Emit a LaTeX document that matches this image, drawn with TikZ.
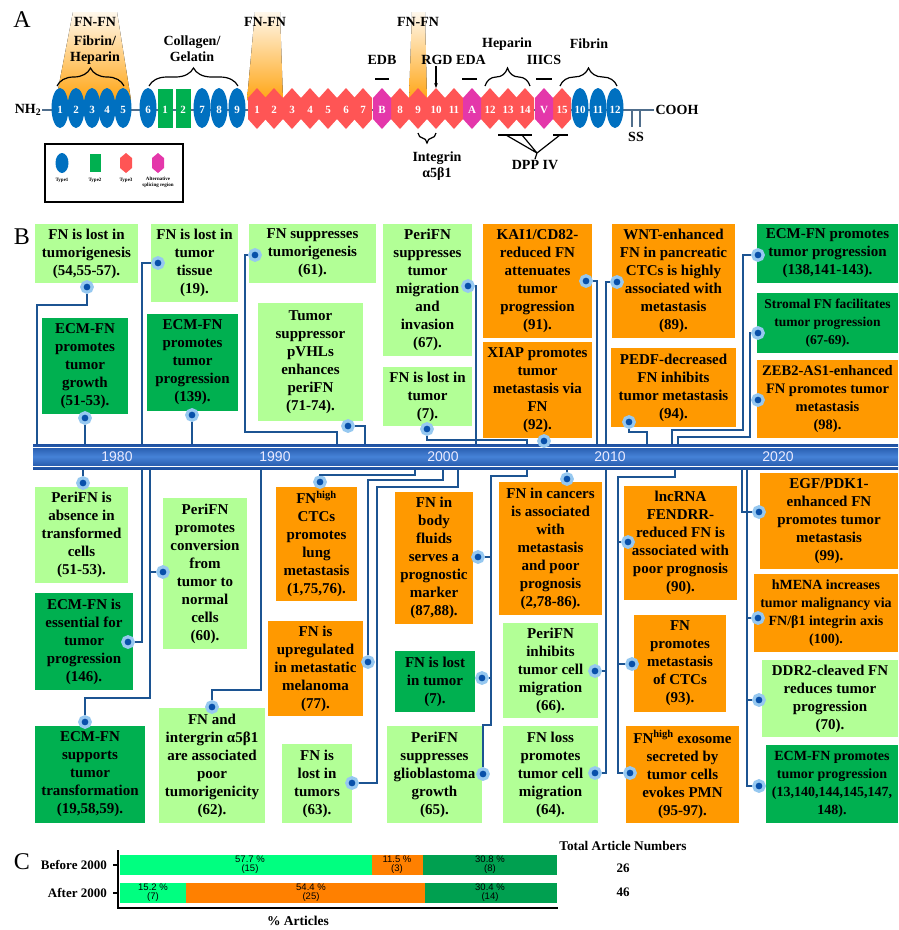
\documentclass[tikz,border=0pt]{standalone}
\usepackage{fontspec}
\setmainfont{Liberation Serif}
\newfontfamily\sansfam{Liberation Sans}
\usetikzlibrary{arrows.meta,decorations.pathreplacing}

\definecolor{lgreen}{RGB}{178,255,150}
\definecolor{dgreen}{RGB}{0,176,80}
\definecolor{orangeb}{RGB}{255,153,0}
\definecolor{lineblue}{RGB}{28,84,146}
\definecolor{dotblue}{RGB}{8,80,170}
\definecolor{glowblue}{RGB}{150,200,240}
\definecolor{tone}{RGB}{0,112,192}
\definecolor{ttwo}{RGB}{0,176,80}
\definecolor{tthree}{RGB}{255,85,85}
\definecolor{talt}{RGB}{228,55,170}
\definecolor{cgreen}{RGB}{0,255,128}
\definecolor{corange}{RGB}{255,128,0}
\definecolor{cdgreen}{RGB}{0,160,80}
\definecolor{fnorange}{RGB}{255,165,20}
\definecolor{barblue}{RGB}{30,80,160}
\definecolor{barlight}{RGB}{70,130,215}
\definecolor{stemgray}{RGB}{80,110,140}

\tikzset{
  box/.style={align=center, inner sep=1pt, font=\fontsize{15}{18}\selectfont\bfseries},
  lgbox/.style={box, fill=lgreen},
  dgbox/.style={box, fill=dgreen},
  orbox/.style={box, fill=orangeb},
  tight/.style={font=\fontsize{#1}{18}\selectfont\bfseries},
  dot/.style={circle, fill=dotblue, draw=glowblue, line width=3.2pt, minimum size=10.5pt, inner sep=0pt},
  conn/.style={draw=lineblue, line width=1.8pt},
  lab/.style={align=center, inner sep=1pt, font=\fontsize{14}{16}\selectfont\bfseries},
  num/.style={text=white, inner sep=0pt, font=\fontsize{11}{12}\selectfont\bfseries},
  panel/.style={inner sep=0pt, font=\fontsize{24}{26}\selectfont},
  year/.style={text=white!92!blue, inner sep=0pt, font=\sansfam\fontsize{14}{16}\selectfont},
  pct/.style={align=center, inner sep=0pt, font=\sansfam\fontsize{9.5}{9}\selectfont},
  leg/.style={align=center, inner sep=0pt, font=\fontsize{5}{6}\selectfont\bfseries},
  fnfan/.style={top color=fnorange!8, bottom color=fnorange},
  bracetop/.style={decorate, decoration={brace, amplitude=18pt}, line width=1.2pt},
}

\begin{document}
\begin{tikzpicture}[x=1pt,y=-1pt]
\useasboundingbox (0,0) rectangle (898,930);
\clip (0,0) rectangle (898,930);

% ---------- A: domain structure ----------
\node[panel] (pA) at (22,20) {A};
\fill[fnfan] (73,12) -- (117,12) -- (131,100) -- (56,100) -- cycle;
\fill[fnfan] (255,12) -- (280,12) -- (283,100) -- (247,100) -- cycle;
\fill[fnfan] (412,12) -- (425,12) -- (427,100) -- (409,100) -- cycle;

\node[lab] (nh2) at (28,110) {NH\textsubscript{2}};
\node[lab] (cooh) at (677,110) {COOH};
\draw[stemgray, line width=1.5pt] (nh2) -- (cooh);
\draw[stemgray, line width=1.5pt] (632,110) -- (632,127) (640,110) -- (640,127);
\node[lab] (ss) at (636,137) {SS};

\foreach \x/\t in {60/1,76/2,92/3,107/4,123/5,148/6,202/7,219/8,237/9,580/10,598/11,615/12}{
  \fill[tone] (\x,108) ellipse [x radius=8.5, y radius=20];
  \node[num] (one\x) at (\x,110) {\t};
}
\foreach \x/\t in {165/1,183/2}{
  \fill[ttwo] (\x-7.5,89) rectangle (\x+7.5,128);
  \node[num] (two\x) at (\x,110) {\t};
}
\foreach \x/\t in {257/1,274/2,292/3,310/4,328/5,346/6,363/7,400/8,418/9,436/10,454/11,490/12,508/13,525/14,562/15}{
  \fill[tthree] (\x,88) -- (\x+9,98) -- (\x+9,119) -- (\x,129) -- (\x-9,119) -- (\x-9,98) -- cycle;
  \node[num] (three\x) at (\x,110) {\t};
}
\foreach \x/\t in {382/B,472/A,544/V}{
  \fill[talt] (\x,88) -- (\x+9,98) -- (\x+9,119) -- (\x,129) -- (\x-9,119) -- (\x-9,98) -- cycle;
  \node[num] (alt\x) at (\x,110) {\t};
}

\node[lab] (fnfn1) at (95,22) {FN-FN};
\node[lab] (fibhep) at (95,50) {Fibrin/\\Heparin};
\node[lab] (colgel) at (192,49) {Collagen/\\Gelatin};
\node[lab] (fnfn2) at (265,22) {FN-FN};
\node[lab] (fnfn3) at (418,22) {FN-FN};
\node[lab] (edb) at (382,60) {EDB};
\node[lab] (rgd) at (437,60) {RGD};
\node[lab] (eda) at (471,60) {EDA};
\node[lab] (hep) at (507,44) {Heparin};
\node[lab] (iiics) at (544,60) {IIICS};
\node[lab] (fib) at (589,44) {Fibrin};
\node[lab] (integ) at (437,166) {Integrin\\α5β1};
\node[lab] (dpp) at (535,165) {DPP IV};

\draw[bracetop] (57,86) -- (124,86);
\draw[bracetop] (149,86) -- (238,86);
\draw[bracetop] (485,86) -- (530,86);
\draw[bracetop] (560,86) -- (617,86);
\draw[decorate, decoration={brace, amplitude=10pt}, line width=1.2pt] (436,133) -- (418,133);
\draw[line width=1.2pt] (375,79) -- (389,79) (462,79) -- (477,79) (536,79) -- (552,79);
\draw[line width=1.2pt, -{Stealth[length=5pt]}] (rgd.south -| 436,0) -- (436,88);
\coordinate (dppjoin) at (537,153);
\draw[line width=1.2pt] (498,135) -- (532,135) (553,135) -- (568,135);
\draw[line width=1.2pt] (506,135) -- (dppjoin) (522,135) -- (dppjoin) (560,135) -- (dppjoin) -- (dpp.north);

% legend
\draw[line width=1.5pt] (45,144) rectangle (183,202);
\fill[tone] (62,163) ellipse [x radius=6.5, y radius=10];
\fill[ttwo] (89.5,154) rectangle (100.5,172);
\fill[tthree] (126,153) -- (132,158) -- (132,168) -- (126,173) -- (120,168) -- (120,158) -- cycle;
\fill[talt] (158,153) -- (164,158) -- (164,168) -- (158,173) -- (152,168) -- (152,158) -- cycle;
\node[leg] (lg1) at (62,180) {Type1};
\node[leg] (lg2) at (95,180) {Type2};
\node[leg] (lg3) at (126,180) {Type3};
\node[leg] (lg4) at (158,182) {Alternative\\splicing region};

% ---------- B: timeline ----------
\node[panel] (pB) at (22,237) {B};
\shade[top color=barblue, bottom color=barblue, middle color=barlight] (33,444) rectangle (898,469);
\draw[white, line width=0.8pt] (33,447) -- (898,447) (33,466) -- (898,466);
\node[year] (y80) at (117,457) {1980};
\node[year] (y90) at (275,457) {1990};
\node[year] (y00) at (443,457) {2000};
\node[year] (y10) at (610,457) {2010};
\node[year] (y20) at (778,457) {2020};

% upper boxes
\node[lgbox, minimum width=103, minimum height=59] (u1) at (86.5,253.5) {FN is lost in\\tumorigenesis\\(54,55-57).};
\node[dgbox, minimum width=86, minimum height=96] (u2) at (85,366) {ECM-FN\\promotes\\tumor\\growth\\(51-53).};
\node[lgbox, minimum width=87, minimum height=78] (u3) at (194.5,263) {FN is lost in\\tumor\\tissue\\(19).};
\node[dgbox, minimum width=91, minimum height=97] (u4) at (192.5,362.5) {ECM-FN\\promotes\\tumor\\progression\\(139).};
\node[lgbox, minimum width=127, minimum height=59] (u5) at (312.5,253.5) {FN suppresses\\tumorigenesis\\(61).};
\node[lgbox, minimum width=105, minimum height=118] (u6) at (310.5,362) {Tumor\\suppressor\\pVHLs\\enhances\\periFN\\(71-74).};
\node[lgbox, minimum width=89, minimum height=132] (u7) at (427.5,290) {PeriFN\\suppresses\\tumor\\migration\\and\\invasion\\(67).};
\node[lgbox, minimum width=89, minimum height=59] (u8) at (427.5,396.5) {FN is lost in\\tumor\\(7).};
\node[orbox, minimum width=109, minimum height=114] (u9) at (537.5,281) {KAI1/CD82-\\reduced FN\\attenuates\\tumor\\progression\\(91).};
\node[orbox, minimum width=109, minimum height=96] (u10) at (537.5,390) {XIAP promotes\\tumor\\metastasis via\\FN\\(92).};
\node[orbox, minimum width=123, minimum height=114] (u11) at (673.5,281) {WNT-enhanced\\FN in pancreatic\\CTCs is highly\\associated with\\metastasis\\(89).};
\node[orbox, minimum width=125, minimum height=79] (u12) at (673.5,387.5) {PEDF-decreased\\FN inhibits\\tumor metastasis\\(94).};
\node[dgbox, minimum width=141, minimum height=59] (u13) at (827.5,253.5) {ECM-FN promotes\\tumor progression\\(138,141-143).};
\node[dgbox, tight=13.5, minimum width=141, minimum height=60] (u14) at (827.5,323) {Stromal FN facilitates\\tumor progression\\(67-69).};
\node[orbox, tight=14.5, minimum width=141, minimum height=78] (u15) at (827.5,399) {ZEB2-AS1-enhanced\\FN promotes tumor\\metastasis\\(98).};

\node[dot] (u1d) at (87,287) {};
\node[dot] (u2d) at (85,418) {};
\node[dot] (u3d) at (158,263) {};
\node[dot] (u4d) at (192,415) {};
\node[dot] (u5d) at (255,255) {};
\node[dot] (u6d) at (348,426) {};
\node[dot] (u7d) at (468,286) {};
\node[dot] (u8d) at (427,429) {};
\node[dot] (u9d) at (586,281) {};
\node[dot] (u10d) at (544,441) {};
\node[dot] (u11d) at (617,282) {};
\node[dot] (u12d) at (629,422) {};
\node[dot] (u13d) at (758,255) {};
\node[dot] (u14d) at (758,333) {};
\node[dot] (u15d) at (758,400) {};

\draw[conn] (u1d) |- (37,305) -- (37,444);
\draw[conn] (u2d) -- (85,444);
\draw[conn] (u3d) -| (142,444);
\draw[conn] (u4d) -- (192,444);
\draw[conn] (u5d) -| (245,432) -| (337,444);
\draw[conn] (u6d) -| (365,444);
\draw[conn] (u7d) -| (476,444);
\draw[conn] (u8d) |- (527,440) -- (527,444);
\draw[conn] (u9d) -| (597,444);
\draw[conn] (u11d) -| (606,444);
\draw[conn] (u12d) |- (647,432) -- (647,444);
\draw[conn] (u13d) -| (743,430) -| (672,444);
\draw[conn] (u14d) -| (750,437) -| (678,444);
\draw[conn] (u15d) -- (750,400);

% lower boxes
\node[lgbox, minimum width=93, minimum height=96] (l1) at (81.5,535) {PeriFN is\\absence in\\transformed\\cells\\(51-53).};
\node[dgbox, minimum width=98, minimum height=97] (l2) at (84,641.5) {ECM-FN is\\essential for\\tumor\\progression\\(146).};
\node[lgbox, minimum width=84, minimum height=151] (l3) at (205,573.5) {PeriFN\\promotes\\conversion\\from\\tumor to\\normal\\cells\\(60).};
\node[dgbox, minimum width=110, minimum height=97] (l4) at (90,774.5) {ECM-FN\\supports\\tumor\\transformation\\(19,58,59).};
\node[lgbox, minimum width=106, minimum height=115] (l5) at (212,765.5) {FN and\\intergrin α5β1\\are associated\\poor\\tumorigenicity\\(62).};
\node[orbox, minimum width=81, minimum height=114] (l6) at (316.5,544) {FN\textsuperscript{high}\\CTCs\\promotes\\lung\\metastasis\\(1,75,76).};
\node[orbox, minimum width=95, minimum height=95] (l7) at (315.5,668.5) {FN is\\upregulated\\in metastatic\\melanoma\\(77).};
\node[lgbox, minimum width=70, minimum height=79] (l8) at (317,783.5) {FN is\\lost in\\tumors\\(63).};
\node[orbox, minimum width=78, minimum height=132] (l9) at (434,558) {FN in\\body\\fluids\\serves a\\prognostic\\marker\\(87,88).};
\node[dgbox, minimum width=80, minimum height=61] (l10) at (435,681.5) {FN is lost\\in tumor\\(7).};
\node[lgbox, minimum width=95, minimum height=97] (l11) at (434.5,774.5) {PeriFN\\suppresses\\glioblastoma\\growth\\(65).};
\node[orbox, minimum width=103, minimum height=133] (l12) at (550.5,548.5) {FN in cancers\\is associated\\with\\metastasis\\and poor\\prognosis\\(2,78-86).};
\node[lgbox, minimum width=95, minimum height=95] (l13) at (550.5,670.5) {PeriFN\\inhibits\\tumor cell\\migration\\(66).};
\node[lgbox, minimum width=95, minimum height=97] (l14) at (550.5,774.5) {FN loss\\promotes\\tumor cell\\migration\\(64).};
\node[orbox, minimum width=113, minimum height=114] (l15) at (680.5,543) {lncRNA\\FENDRR-\\reduced FN is\\associated with\\poor prognosis\\(90).};
\node[orbox, minimum width=92, minimum height=97] (l16) at (680,663.5) {FN\\promotes\\metastasis\\of CTCs\\(93).};
\node[orbox, minimum width=113, minimum height=97] (l17) at (682.5,774.5) {FN\textsuperscript{high} exosome\\secreted by\\tumor cells\\evokes PMN\\(95-97).};
\node[orbox, minimum width=138, minimum height=96] (l18) at (829,521) {EGF/PDK1-\\enhanced FN\\promotes tumor\\metastasis\\(99).};
\node[orbox, tight=14, minimum width=144, minimum height=78] (l19) at (826,613) {hMENA increases\\tumor malignancy via\\FN/β1 integrin axis\\(100).};
\node[lgbox, minimum width=136, minimum height=77] (l20) at (830,698.5) {DDR2-cleaved FN\\reduces tumor\\progression\\(70).};
\node[dgbox, tight=14, minimum width=132, minimum height=78] (l21) at (832,784) {ECM-FN promotes\\tumor progression\\(13,140,144,145,147,\\148).};

\node[dot] (l1d) at (83,483) {};
\node[dot] (l2d) at (128,642) {};
\node[dot] (l3d) at (163,572) {};
\node[dot] (l4d) at (85,722) {};
\node[dot] (l5d) at (212,707) {};
\node[dot] (l6d) at (320,482) {};
\node[dot] (l7d) at (368,662) {};
\node[dot] (l8d) at (352,783) {};
\node[dot] (l9d) at (478,557) {};
\node[dot] (l10d) at (482,678) {};
\node[dot] (l11d) at (483,774) {};
\node[dot] (l12d) at (567,479) {};
\node[dot] (l13d) at (595,671) {};
\node[dot] (l14d) at (595,773) {};
\node[dot] (l15d) at (628,542) {};
\node[dot] (l16d) at (632,664) {};
\node[dot] (l17d) at (630,773) {};
\node[dot] (l18d) at (759,512) {};
\node[dot] (l19d) at (758,618) {};
\node[dot] (l20d) at (759,700) {};
\node[dot] (l21d) at (759,786) {};

\draw[conn] (l1d) -- (83,469);
\draw[conn] (l2d) -| (142,469);
\draw[conn] (l3d) -- (150,572);
\draw[conn] (l4d) |- (150,698) -- (150,469);
\draw[conn] (l5d) |- (261,690) -- (261,469);
\draw[conn] (l6d) |- (415,475) -- (415,469);
\draw[conn] (l7d) |- (443,480) -- (443,469);
\draw[conn] (l8d) -| (377,487) -| (458,469);
\draw[conn] (l9d) -- (491,557);
\draw[conn] (l10d) -- (491,678);
\draw[conn] (l11d) |- (491,725) |- (527,476) -- (527,469);
\draw[conn] (l12d) -- (567,469);
\draw[conn] (l13d) -- (606,671);
\draw[conn] (l14d) -| (606,469);
\draw[conn] (l15d) -- (618,542);
\draw[conn] (l16d) -- (618,664);
\draw[conn] (l17d) -| (618,477) -| (675,469);
\draw[conn] (l18d) -| (742,469);
\draw[conn] (l19d) -- (747,618);
\draw[conn] (l20d) -- (747,700);
\draw[conn] (l21d) -| (747,469);

% ---------- C: article bars ----------
\node[panel] (pC) at (22,862) {C};
\fill[cgreen] (120,855) rectangle (372,875);
\fill[corange] (372,855) rectangle (423,875);
\fill[cdgreen] (423,855) rectangle (557,875);
\fill[cgreen] (120,883) rectangle (186,903);
\fill[corange] (186,883) rectangle (425,903);
\fill[cdgreen] (425,883) rectangle (557,903);
\draw[line width=1.5pt] (118,850) -- (118,908) -- (558,908);
\draw[line width=1.5pt] (113,865) -- (118,865) (113,893) -- (118,893);
\node[lab, font=\fontsize{13}{15}\selectfont\bfseries, anchor=east] (bef) at (108,865) {Before 2000};
\node[lab, font=\fontsize{13}{15}\selectfont\bfseries, anchor=east] (aft) at (108,893) {After 2000};
\node[pct] (p1) at (250,865) {57.7 \%\\(15)};
\node[pct] (p2) at (397,865) {11.5 \%\\(3)};
\node[pct] (p3) at (490,865) {30.8 \%\\(8)};
\node[pct] (p4) at (153,893) {15.2 \%\\(7)};
\node[pct] (p5) at (311,893) {54.4 \%\\(25)};
\node[pct] (p6) at (490,893) {30.4 \%\\(14)};
\node[lab, font=\fontsize{13.3}{15}\selectfont\bfseries] (tot) at (623,846) {Total Article Numbers};
\node[lab, font=\fontsize{13}{15}\selectfont\bfseries] (n26) at (623,868) {26};
\node[lab, font=\fontsize{13}{15}\selectfont\bfseries] (n46) at (623,892) {46};
\node[lab, font=\fontsize{13.5}{15}\selectfont\bfseries] (xlab) at (298,921) {\% Articles};
\end{tikzpicture}
\end{document}
